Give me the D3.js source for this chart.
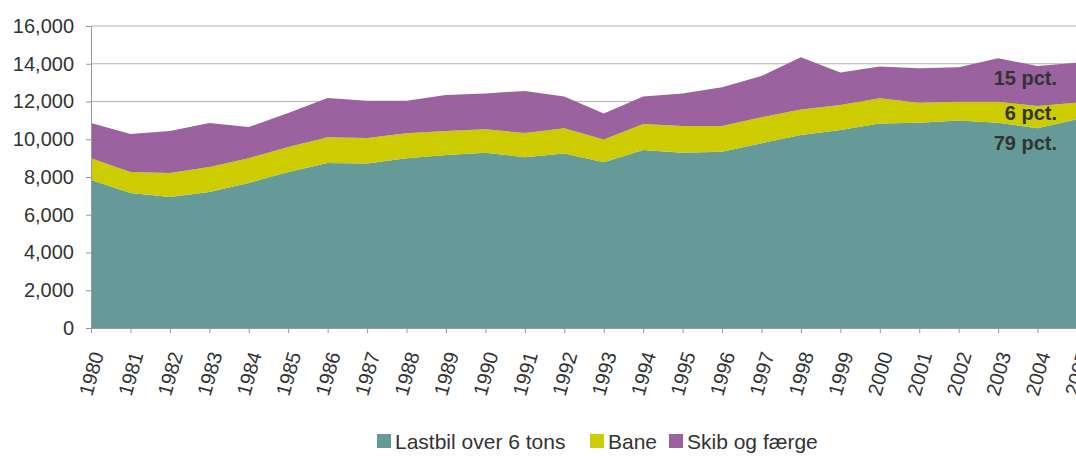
<!DOCTYPE html>
<html>
<head>
<meta charset="utf-8">
<script src="https://cdn.jsdelivr.net/npm/d3@7"></script>
<style>
  body { margin: 0; background: #fff; }
  text { font-family: "Liberation Sans", Arial, sans-serif; fill: #333; }
</style>
</head>
<body>
<div id="chart"></div>
<script>
// Years on the x axis
const years = d3.range(1980, 2006);

// Series values
const lastbil = [7840, 7150, 6940, 7200, 7680, 8270, 8740, 8720, 9000, 9170,
                 9290, 9040, 9250, 8780, 9430, 9290, 9340, 9790, 10230, 10490,
                 10840, 10880, 10990, 10880, 10580, 11060];
const bane = [1160, 1115, 1270, 1330, 1320, 1320, 1360, 1340, 1320, 1270,
              1240, 1290, 1330, 1210, 1380, 1410, 1360, 1370, 1350, 1320,
              1330, 1060, 1000, 1110, 1180, 880];
const skib = [1860, 2015, 2230, 2330, 1650, 1800, 2090, 1980, 1720, 1900,
              1900, 2230, 1680, 1380, 1450, 1730, 2050, 2190, 2760, 1720,
              1680, 1820, 1820, 2300, 2120, 2120];

const seriesNames = ["Lastbil over 6 tons", "Bane", "Skib og færge"];
const seriesColors = ["#669a98", "#cccc00", "#9a629e"];
const yTicks = [0, 2000, 4000, 6000, 8000, 10000, 12000, 14000, 16000];

// Share labels at the right end
const shareLabels = ["79 pct.", "6 pct.", "15 pct."];

const width = 1076, height = 456;
const svg = d3.select("#chart").append("svg")
  .attr("width", width)
  .attr("height", height);

const x = d3.scaleLinear().domain([1980, 2005]).range([91, 1077]);
const y = d3.scaleLinear().domain([0, 16000]).range([328, 26]);

// Build table for the stack
const table = years.map((yr, i) => ({
  year: yr,
  [seriesNames[0]]: lastbil[i],
  [seriesNames[1]]: bane[i],
  [seriesNames[2]]: skib[i]
}));

const stacked = d3.stack().keys(seriesNames)(table);

// Grid lines
svg.append("g")
  .selectAll("line")
  .data(yTicks.slice(1))
  .join("line")
  .attr("x1", x(1980))
  .attr("x2", width)
  .attr("y1", d => y(d))
  .attr("y2", d => y(d))
  .attr("stroke", "#b5b5b5")
  .attr("stroke-width", 1.2);

// Areas
const area = d3.area()
  .x((d, i) => x(years[i]))
  .y0(d => y(d[0]))
  .y1(d => y(d[1]));

svg.append("g")
  .selectAll("path")
  .data(stacked)
  .join("path")
  .attr("fill", (d, i) => seriesColors[i])
  .attr("d", area);

// Y axis
const yAxis = svg.append("g")
  .attr("transform", `translate(${x(1980)},0)`)
  .call(d3.axisLeft(y).tickValues(yTicks).tickFormat(d3.format(",")).tickSize(5).tickPadding(12));
yAxis.select(".domain").attr("stroke", "#999");
yAxis.selectAll(".tick line").attr("stroke", "#999");
yAxis.selectAll("text")
  .style("font-size", "20px")
  .attr("fill", "#333");

// X axis
const xAxis = svg.append("g")
  .attr("transform", `translate(0,${y(0)})`)
  .call(d3.axisBottom(x).tickValues(years).tickFormat(d => d).tickSize(5).tickSizeOuter(0));
xAxis.select(".domain").attr("stroke", "#999");
xAxis.selectAll(".tick line").attr("stroke", "#999");
xAxis.selectAll("text")
  .style("font-size", "20px")
  .attr("fill", "#333")
  .attr("text-anchor", "end")
  .attr("dx", "0")
  .attr("dy", "0")
  .attr("transform", "translate(5,24) rotate(-74)");

// Share labels
const labelY = [150, 120, 85];
svg.append("g")
  .selectAll("text")
  .data(shareLabels)
  .join("text")
  .attr("x", 1057)
  .attr("y", (d, i) => labelY[i])
  .attr("text-anchor", "end")
  .style("font-size", "20px")
  .style("font-weight", "bold")
  .attr("fill", "#1a1a1a")
  .text(d => d);

// Legend
const legendX = [377, 590, 669];
const legend = svg.append("g")
  .selectAll("g")
  .data(seriesNames)
  .join("g")
  .attr("transform", (d, i) => `translate(${legendX[i]},434)`);

legend.append("rect")
  .attr("width", 14)
  .attr("height", 14)
  .attr("fill", (d, i) => seriesColors[i]);

legend.append("text")
  .attr("x", 18)
  .attr("y", 15)
  .style("font-size", "21px")
  .text(d => d);
</script>
</body>
</html>
